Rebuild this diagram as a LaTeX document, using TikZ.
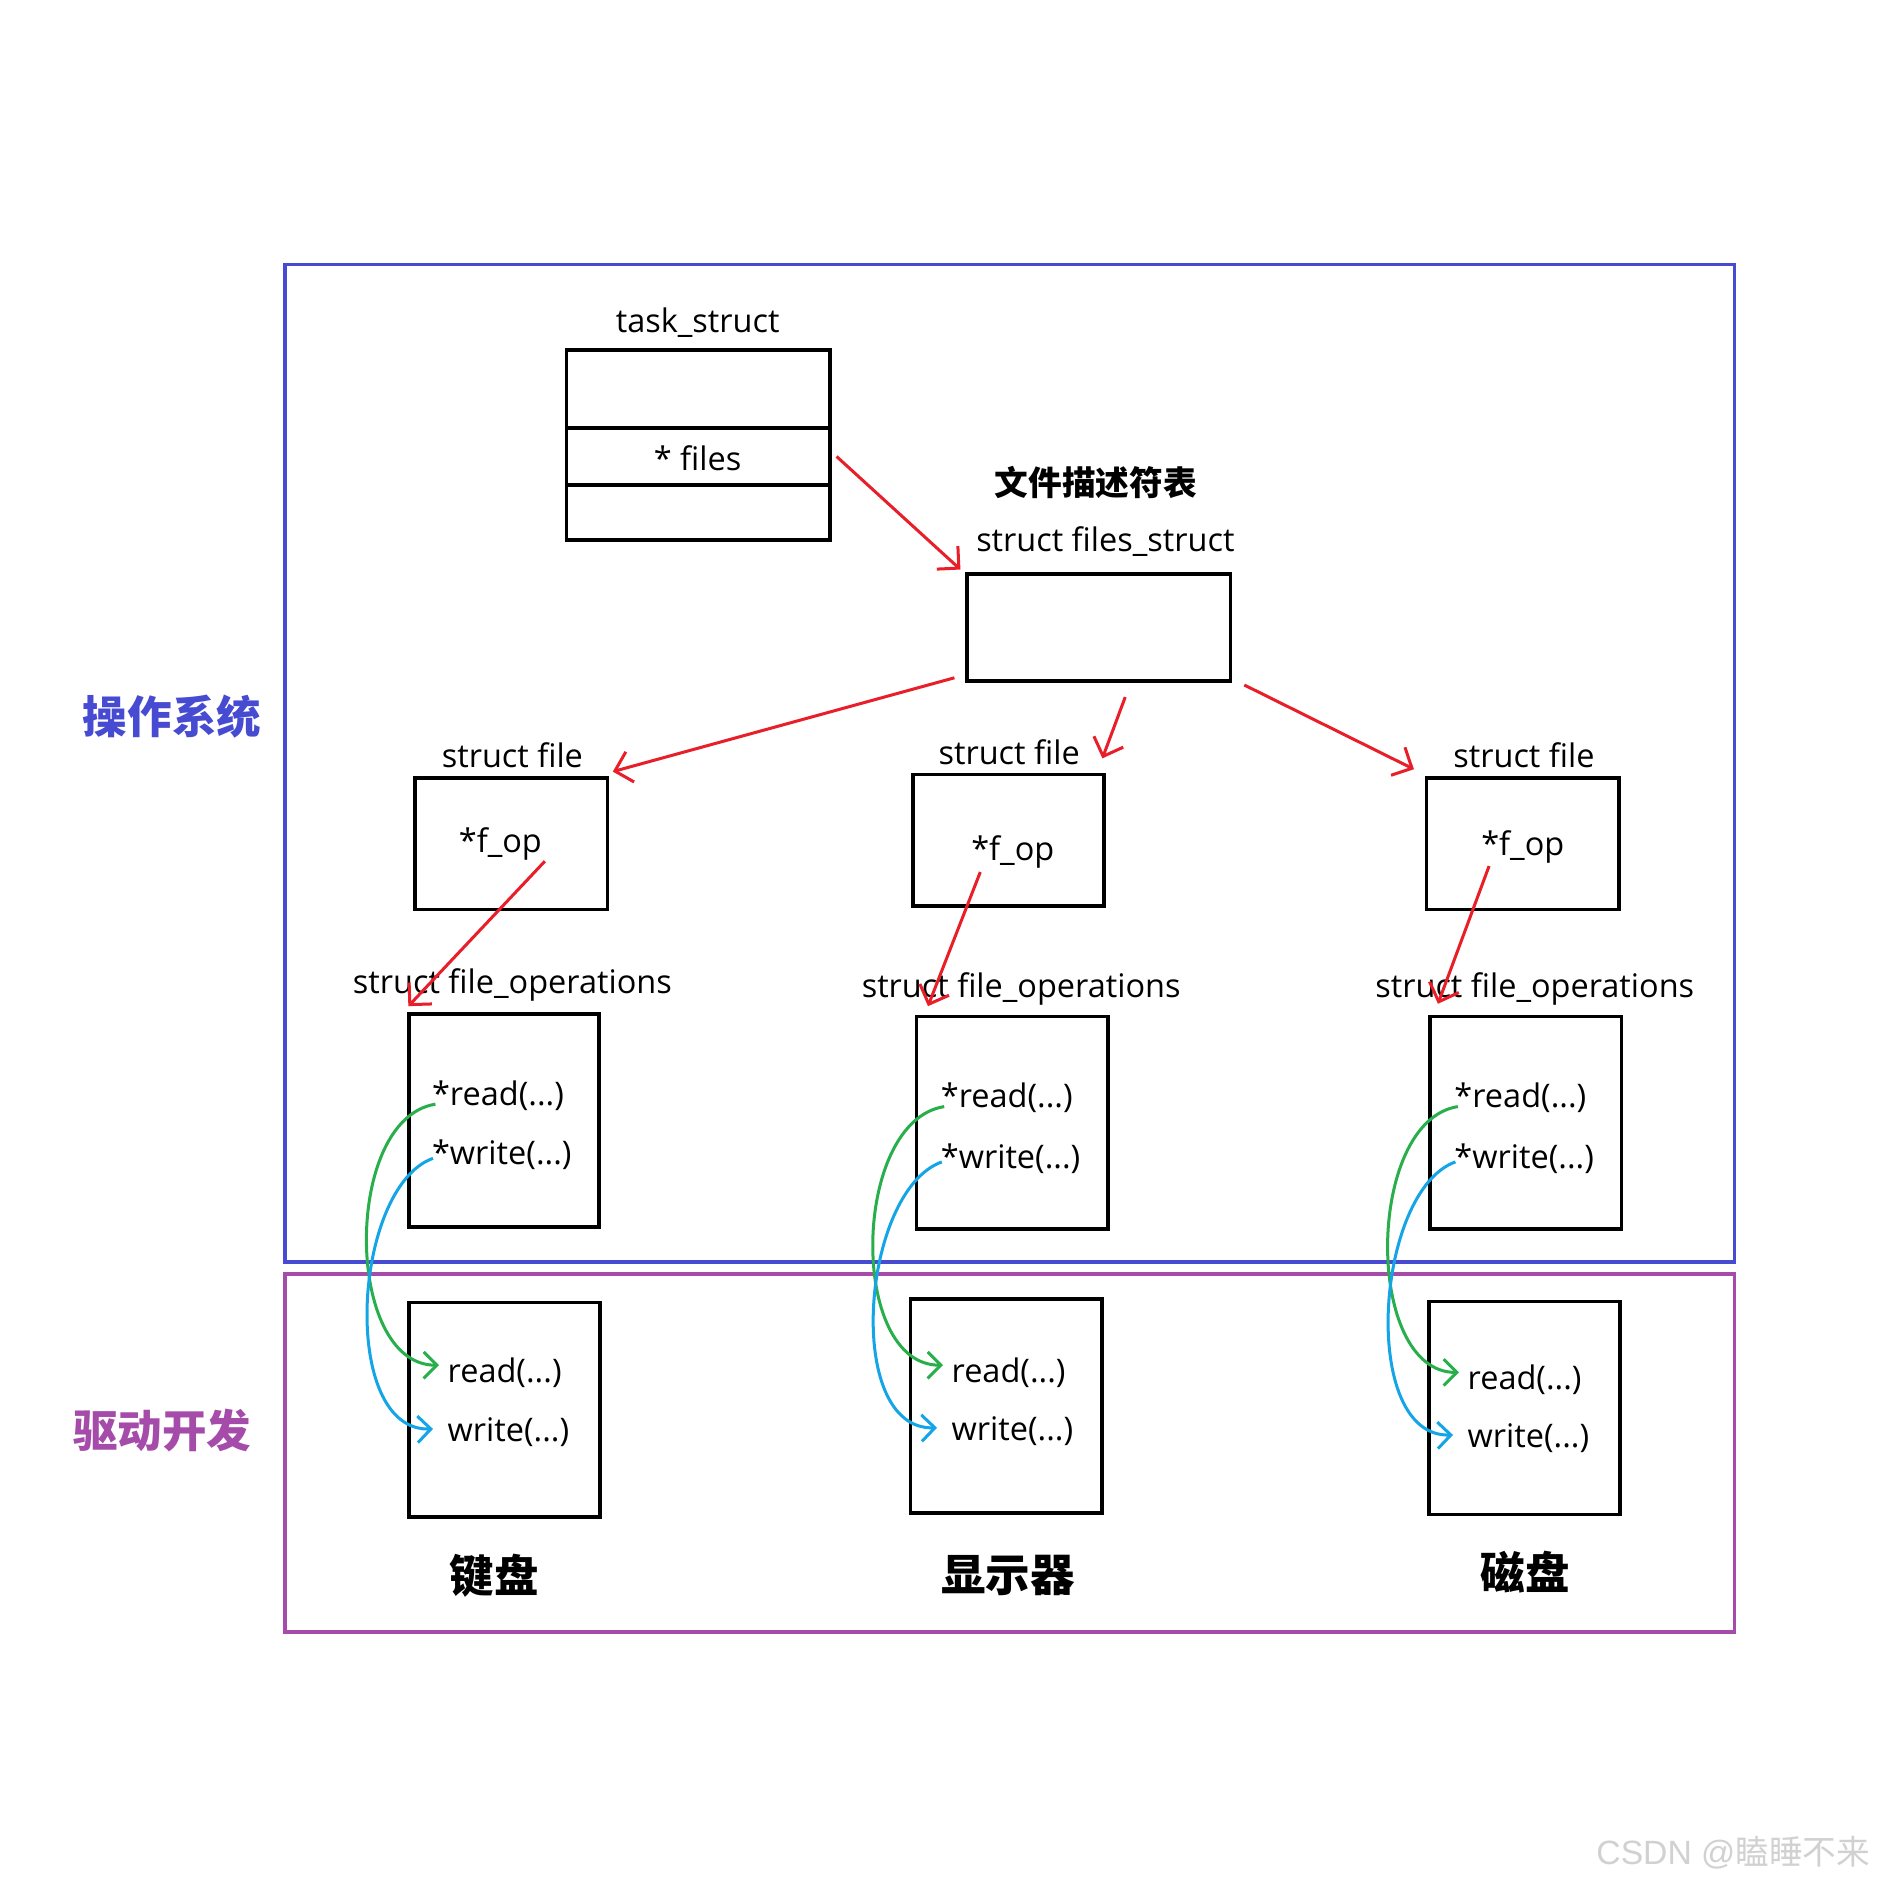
\documentclass[tikz,border=0pt]{standalone}
\usepackage{fontspec}
\setmainfont{Open Sans}
\newfontfamily\cjk{Noto Sans CJK SC}
\usetikzlibrary{arrows.meta,calc}
\definecolor{osblue}{RGB}{70,75,210}
\definecolor{drvpurple}{RGB}{165,75,170}
\definecolor{arrred}{RGB}{232,30,40}
\definecolor{arrgreen}{RGB}{40,175,75}
\definecolor{arrblue}{RGB}{20,165,230}
\begin{document}
\begin{tikzpicture}[x=1pt,y=-1pt,
  box/.style={draw=black,line width=3pt,inner sep=0pt},
  lbl/.style={inner sep=0pt,font=\fontsize{27}{32}\selectfont},
  fn/.style={inner sep=0pt,anchor=west,font=\fontsize{27}{32}\selectfont},
  zh/.style={inner sep=0pt,font=\cjk\bfseries\fontsize{37}{42}\selectfont},
  redarr/.style={draw=arrred,line width=2.5pt,-{Straight Barb[length=13pt,width=26pt,line width=2.5pt]}},
  grarr/.style={draw=arrgreen,line width=2.5pt,-{Straight Barb[length=11pt,width=22pt,line width=2.5pt]}},
  blarr/.style={draw=arrblue,line width=2.5pt,-{Straight Barb[length=11pt,width=22pt,line width=2.5pt]}}
]
\useasboundingbox[fill=white] (0,0) rectangle (1560,1568);
% frames
\node[draw=osblue,line width=3pt,inner sep=0pt,minimum width=1205pt,minimum height=829pt] (os) at (839.5,634.5) {};
\node[draw=drvpurple,line width=3pt,inner sep=0pt,minimum width=1205pt,minimum height=298pt] (drv) at (839.5,1208) {};
\node[zh,text=osblue] (oslbl) at (143,596) {操作系统};
\node[zh,text=drvpurple] (drvlbl) at (135,1189) {驱动开发};
% task_struct
\node[lbl] (tslbl) at (580,268) {task\_struct};
\node[box,minimum width=219pt,minimum height=65pt] (ts1) at (580.5,323.5) {};
\node[box,minimum width=219pt,minimum height=47pt] (ts2) at (580.5,379.5) {};
\node[box,minimum width=219pt,minimum height=46pt] (ts3) at (580.5,426) {};
\node[lbl] (tsfiles) at (580,381) {* files};
% files_struct
\node[zh,font=\cjk\bfseries\fontsize{28}{32}\selectfont] (fdt) at (911,401) {文件描述符表};
\node[lbl] (fslbl) at (919,450) {struct files\_struct};
\node[box,minimum width=219pt,minimum height=89pt] (fs) at (913.5,521.5) {};
% struct file
\node[lbl] (flL) at (426,628) {struct file};
\node[lbl] (flM) at (839,625) {struct file};
\node[lbl] (flR) at (1267,628) {struct file};
\node[box,minimum width=160pt,minimum height=109pt] (fL) at (425,701.5) {};
\node[box,minimum width=159pt,minimum height=109pt] (fM) at (838.5,698.5) {};
\node[box,minimum width=160pt,minimum height=109pt] (fR) at (1266,701.5) {};
\node[lbl] (fopL) at (416,702) {*f\_op};
\node[lbl] (fopM) at (842,708) {*f\_op};
\node[lbl] (fopR) at (1266,704) {*f\_op};
% file_operations
\node[lbl] (olL) at (426,819) {struct file\_operations};
\node[lbl] (olM) at (849,822) {struct file\_operations};
\node[lbl] (olR) at (1276,822) {struct file\_operations};
\node[box,minimum width=158pt,minimum height=177pt] (oL) at (419,931.5) {};
\node[box,minimum width=159pt,minimum height=177pt] (oM) at (841.5,933.5) {};
\node[box,minimum width=159pt,minimum height=177pt] (oR) at (1268.5,933.5) {};
\node[fn] (rdL) at (359,911) {*read(...)};
\node[fn] (wrL) at (359,960) {*write(...)};
\node[fn] (rdM) at (782,913) {*read(...)};
\node[fn] (wrM) at (782,963) {*write(...)};
\node[fn] (rdR) at (1209,913) {*read(...)};
\node[fn] (wrR) at (1209,963) {*write(...)};
% drivers
\node[box,minimum width=159pt,minimum height=178pt] (dL) at (419.5,1172) {};
\node[box,minimum width=159pt,minimum height=178pt] (dM) at (836.5,1169) {};
\node[box,minimum width=159pt,minimum height=177pt] (dR) at (1267.5,1170.5) {};
\node[fn] (drL) at (372,1141) {read(...)};
\node[fn] (dwL) at (372,1191) {write(...)};
\node[fn] (drM) at (791,1141) {read(...)};
\node[fn] (dwM) at (791,1190) {write(...)};
\node[fn] (drR) at (1220,1147) {read(...)};
\node[fn] (dwR) at (1220,1196) {write(...)};
\node[zh] (kb) at (411,1310) {键盘};
\node[zh] (disp) at (838,1310) {显示器};
\node[zh] (disk) at (1268,1307) {磁盘};
% watermark
\node[inner sep=0pt,anchor=east,text=black!18] (wm) at (1555,1540)
  {\fontspec{Liberation Sans}\fontsize{28}{32}\selectfont CSDN @\cjk 瞌睡不来};
% red arrows
\draw[redarr] ($(ts2.east)+(4,0)$) -- ($(fs.north west)+(-4,-2)$);
\draw[redarr] ($(fs.south west)+(-9,-4)$) -- ($(fL.north east)+(3,-4)$);
\draw[redarr] ($(fs.south)+(22,12)$) -- ($(fM.north east)+(-3,-12)$);
\draw[redarr] ($(fs.south east)+(10,2)$) -- ($(fR.north west)+(-9,-6)$);
\draw[redarr] ($(fL.center)+(28,14.5)$) -- ($(oL.north west)+(1,-5)$);
\draw[redarr] ($(fM.center)+(-23.5,26.5)$) -- ($(oM.north west)+(11,-7)$);
\draw[redarr] ($(fR.center)+(-28,18.5)$) -- ($(oR.north west)+(8,-9)$);
% green / blue curves
\foreach \s in {L,M,R}{
  \draw[grarr] ($(rd\s.west)+(3,7)$) .. controls ($(rd\s.west)+(-74,19)$) and ($(dr\s.west)+(-86,-6)$) .. ($(dr\s.west)+(-7,-6)$);
  \draw[blarr] ($(wr\s.west)+(1,3)$) .. controls ($(wr\s.west)+(-66,27)$) and ($(dw\s.west)+(-90,-1)$) .. ($(dw\s.west)+(-12,-3)$);
}
\end{tikzpicture}
\end{document}
